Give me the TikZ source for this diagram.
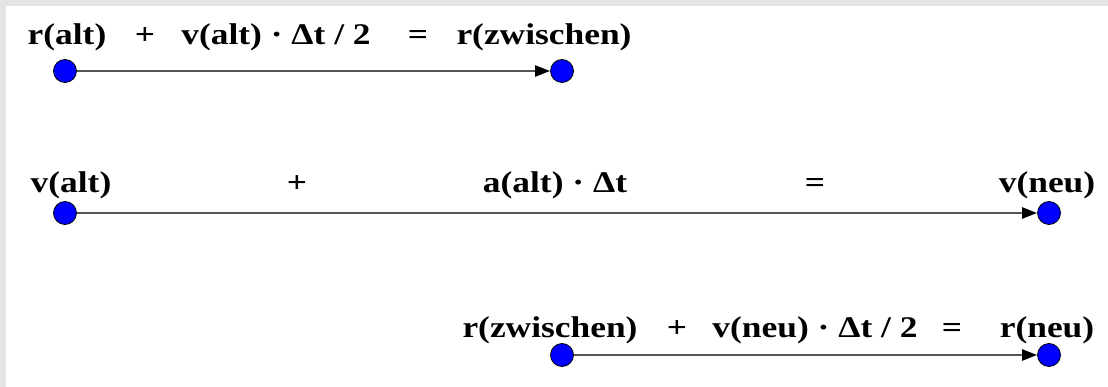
\documentclass[tikz,border=0pt]{standalone}
\usepackage{fontspec}
\setmainfont{Liberation Serif}[FakeStretch=1.18]
\usetikzlibrary{arrows.meta}
\definecolor{frame}{RGB}{228,228,228}
\definecolor{shaft}{RGB}{85,85,85}

\begin{document}
\begin{tikzpicture}[x=1pt, y=-1pt,
    term/.style={anchor=base, inner sep=0pt, font=\fontsize{30}{34}\selectfont\bfseries},
    dot/.style={circle, draw=black, fill=blue, line width=0.8pt, minimum size=23pt, inner sep=0pt},
    vec/.style={draw=shaft, line width=2.4pt, -{Triangle[length=15pt, width=11pt, color=black]}}]
	% Background
	\useasboundingbox (0,0) rectangle (1108,387);
	\fill[frame] (0,0) rectangle (1108,387);
	\fill[white] (6,6) rectangle (1108,387);
	
	% Half step position
	\node[term] (ralt) at (67,45) {r(alt)};
	\node[term] (plusA) at (145,45) {+};
	\node[term] (valtdt) at (276,45) {v(alt) · Δt / 2};
	\node[term] (eqA) at (418,45) {=};
	\node[term] (rzw) at (544,45) {r(zwischen)};
	\node[dot] (p1) at (65,71) {};
	\node[dot] (p2) at (562,71) {};
	\draw[vec] (p1) -- (p2);
	
	% Velocity step
	\node[term] (valt) at (71,193) {v(alt)};
	\node[term] (plusB) at (297,193) {+};
	\node[term] (aalt) at (555,193) {a(alt) ·  Δt};
	\node[term] (eqB) at (815,193) {=};
	\node[term] (vneu) at (1047,193) {v(neu)};
	\node[dot] (v1) at (65,213) {};
	\node[dot] (v2) at (1049,213) {};
	\draw[vec] (v1) -- (v2);
	
	% Second half step
	\node[term] (rzw2) at (550,337) {r(zwischen)};
	\node[term] (plusC) at (677,337) {+};
	\node[term] (vneudt) at (815,337) {v(neu) · Δt / 2};
	\node[term] (eqC) at (952,337) {=};
	\node[term] (rneu) at (1047,337) {r(neu)};
	\node[dot] (q1) at (562,355) {};
	\node[dot] (q2) at (1049,355) {};
	\draw[vec] (q1) -- (q2);
\end{tikzpicture}
\end{document}
